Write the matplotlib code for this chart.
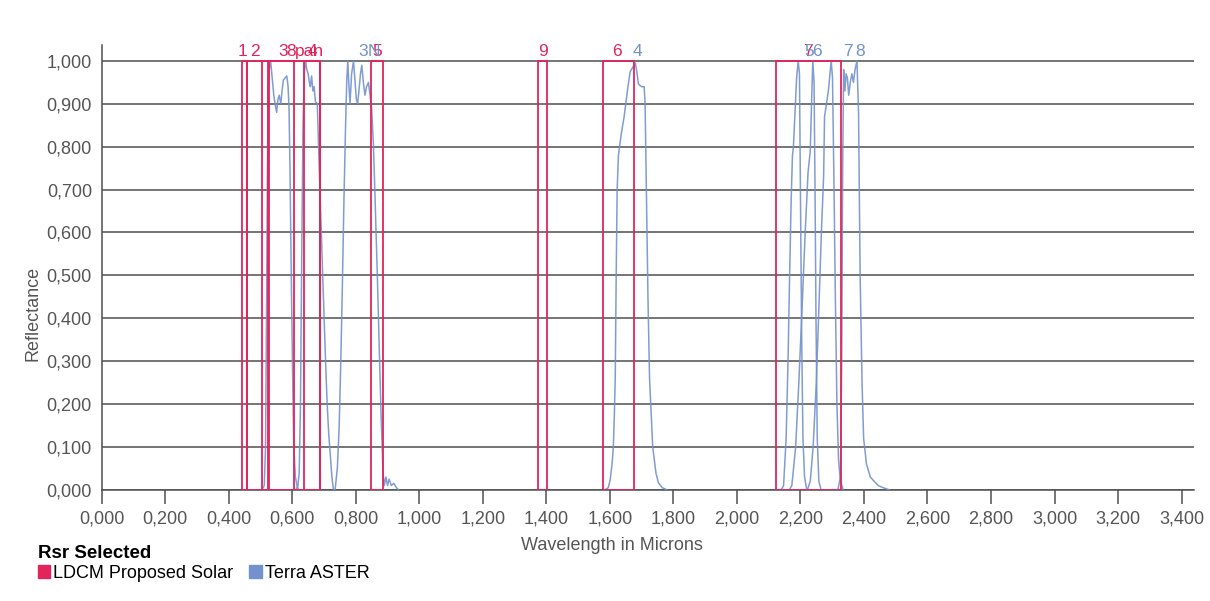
import numpy as np
import matplotlib.pyplot as plt
from matplotlib.ticker import FuncFormatter, MultipleLocator
from matplotlib.patches import Patch

plt.rcParams['font.family'] = ['Liberation Sans', 'DejaVu Sans']

RED = '#e2245c'
BLUE = '#7391cc'

# LDCM Proposed Solar bands: (start, end) in microns, label
ldcm_lo = [0.441, 0.458, 0.526, 0.637, 0.848, 1.579, 2.123, 0.506, 1.374]
ldcm_hi = [0.459, 0.523, 0.607, 0.688, 0.887, 1.677, 2.328, 0.688, 1.402]
ldcm_lab = ['1', '2', '3', '4', '5', '6', '7', '8', '9']
ldcm_lab_x = [0.443, 0.483, 0.571, 0.665, 0.867, 1.623, 2.225, 0.597, 1.388]
pan_text_x = 0.609

# Terra ASTER relative spectral response curves
a1_wl = [0.505, 0.512, 0.516, 0.519, 0.522, 0.525, 0.529, 0.532, 0.537, 0.542, 0.546, 0.551,
         0.555, 0.559, 0.564, 0.568, 0.572, 0.577, 0.583, 0.587, 0.590, 0.593, 0.597,
         0.601, 0.605, 0.610, 0.615, 0.620]
a1_r = [0.0, 0.01, 0.1, 0.4, 0.75, 0.95, 0.99, 1.0, 0.96, 0.92, 0.90, 0.88,
        0.91, 0.92, 0.90, 0.93, 0.955, 0.96, 0.965, 0.94, 0.89, 0.75, 0.5,
        0.28, 0.1, 0.03, 0.01, 0.0]

a2_wl = [0.612, 0.618, 0.622, 0.626, 0.630, 0.634, 0.638, 0.642, 0.646, 0.650, 0.654, 0.657,
         0.661, 0.665, 0.669, 0.673, 0.679, 0.685, 0.690, 0.695, 0.700, 0.705, 0.710,
         0.715, 0.720, 0.725, 0.730]
a2_r = [0.0, 0.01, 0.04, 0.2, 0.55, 0.85, 0.97, 1.0, 0.98, 0.97, 0.95, 0.94,
        0.965, 0.93, 0.94, 0.905, 0.90, 0.75, 0.64, 0.52, 0.41, 0.30, 0.20,
        0.13, 0.08, 0.03, 0.0]

a3_wl = [0.735, 0.742, 0.748, 0.753, 0.758, 0.763, 0.768, 0.772, 0.775, 0.778, 0.782, 0.787,
         0.793, 0.798, 0.802, 0.806, 0.810, 0.815, 0.819, 0.824, 0.829, 0.834, 0.840,
         0.845, 0.850, 0.856, 0.862, 0.868, 0.874, 0.880, 0.886, 0.890, 0.895, 0.900,
         0.905, 0.912, 0.920, 0.928, 0.935]
a3_r = [0.0, 0.05, 0.15, 0.3, 0.48, 0.68, 0.85, 0.96, 1.0, 0.95, 0.90, 0.97,
        1.0, 0.95, 0.91, 0.90, 0.93, 0.97, 0.99, 0.95, 0.92, 0.94, 0.95,
        0.92, 0.89, 0.80, 0.65, 0.50, 0.33, 0.17, 0.04, 0.01, 0.03, 0.01,
        0.025, 0.01, 0.015, 0.005, 0.0]

a4_wl = [1.585, 1.595, 1.601, 1.607, 1.611, 1.614, 1.617, 1.620, 1.623, 1.627, 1.636, 1.645,
         1.651, 1.657, 1.664, 1.672, 1.680, 1.685, 1.690, 1.700, 1.708, 1.711, 1.714,
         1.717, 1.720, 1.725, 1.735, 1.745, 1.753, 1.765, 1.780]
a4_r = [0.0, 0.005, 0.023, 0.06, 0.1, 0.17, 0.26, 0.5, 0.7, 0.78, 0.83, 0.87,
        0.905, 0.94, 0.975, 0.985, 0.995, 0.975, 0.946, 0.94, 0.94, 0.90, 0.75,
        0.60, 0.45, 0.26, 0.10, 0.04, 0.016, 0.005, 0.0]

a5_wl = [2.140, 2.147, 2.155, 2.161, 2.166, 2.171, 2.175, 2.178, 2.183, 2.188, 2.193, 2.197,
         2.200, 2.204, 2.208, 2.213, 2.220]
a5_r = [0.0, 0.01, 0.12, 0.3, 0.5, 0.68, 0.78, 0.80, 0.88, 0.96, 1.0, 0.97,
        0.7, 0.35, 0.12, 0.03, 0.0]

a6_wl = [2.165, 2.173, 2.185, 2.195, 2.205, 2.215, 2.224, 2.231, 2.235, 2.239, 2.243, 2.246,
         2.249, 2.253, 2.258, 2.265]
a6_r = [0.0, 0.01, 0.1, 0.25, 0.42, 0.6, 0.74, 0.79, 0.9, 1.0, 0.95, 0.7,
        0.4, 0.12, 0.02, 0.0]

a7_wl = [2.222, 2.231, 2.240, 2.250, 2.258, 2.266, 2.273, 2.276, 2.282, 2.288, 2.293, 2.297,
         2.301, 2.305, 2.310, 2.315, 2.320, 2.326, 2.335]
a7_r = [0.0, 0.02, 0.1, 0.25, 0.42, 0.6, 0.73, 0.87, 0.90, 0.93, 0.97, 1.0,
        0.96, 0.75, 0.45, 0.2, 0.07, 0.02, 0.0]

a8_wl = [2.318, 2.326, 2.330, 2.333, 2.336, 2.340, 2.344, 2.348, 2.352, 2.357, 2.362, 2.367,
         2.372, 2.378, 2.383, 2.388, 2.394, 2.399, 2.408, 2.420, 2.432, 2.445, 2.460, 2.480]
a8_r = [0.0, 0.03, 0.3, 0.75, 0.98, 0.93, 0.97, 0.96, 0.92, 0.95, 0.97, 0.95,
        0.98, 1.0, 0.88, 0.5, 0.25, 0.12, 0.06, 0.03, 0.02, 0.01, 0.005, 0.0]

aster_wl = [a1_wl, a2_wl, a3_wl, a4_wl, a5_wl, a6_wl, a7_wl, a8_wl]
aster_r = [a1_r, a2_r, a3_r, a4_r, a5_r, a6_r, a7_r, a8_r]
aster_lab = ['3', 'N', '4', '5', '6', '7', '8']
aster_lab_x = [0.822, 0.858, 1.686, 2.228, 2.253, 2.349, 2.388]

fig = plt.figure(figsize=(12.1, 6.01), dpi=100)
ax = fig.add_axes([0.084, 0.185, 0.903, 0.740])

for wl, r in zip(aster_wl, aster_r):
    ax.plot(wl, r, color=BLUE, lw=1.1, alpha=0.9, zorder=3)

ax.bar(ldcm_lo, [1.0] * len(ldcm_lo), width=np.array(ldcm_hi) - np.array(ldcm_lo),
       align='edge', fill=False, edgecolor=RED, linewidth=1.3, zorder=4)

for lab, x in zip(ldcm_lab, ldcm_lab_x):
    ax.text(x, 1.012, lab, color=RED, fontsize=12.5, ha='center', va='baseline', zorder=5)
ax.text(pan_text_x, 1.012, 'pan', color=RED, fontsize=12.5, ha='left', va='baseline', zorder=5)
for lab, x in zip(aster_lab, aster_lab_x):
    ax.text(x, 1.012, lab, color=BLUE, fontsize=12.5, ha='center', va='baseline', zorder=5)

ax.set_xlim(0, 3.44)
ax.set_ylim(0, 1.037)
ax.xaxis.set_major_locator(MultipleLocator(0.2))
ax.yaxis.set_major_locator(MultipleLocator(0.1))
fmt = FuncFormatter(lambda v, p: f"{v:.3f}".replace('.', ','))
ax.xaxis.set_major_formatter(fmt)
ax.yaxis.set_major_formatter(fmt)
ax.grid(axis='y', color='#505050', lw=1.1, zorder=0)
ax.set_axisbelow(True)
for s in ['top', 'right']:
    ax.spines[s].set_visible(False)
for s in ['left', 'bottom']:
    ax.spines[s].set_color('#505050')
    ax.spines[s].set_linewidth(1.1)
ax.tick_params(axis='y', length=0, pad=7, labelsize=13, labelcolor='#555555')
ax.tick_params(axis='x', length=10, width=1.1, color='#505050', pad=5, labelsize=13,
               labelcolor='#555555')

fig.text(612 / 1210, 1 - 545 / 601, 'Wavelength in Microns', fontsize=13, color='#555555',
         ha='center', va='center')
fig.text(33 / 1210, 1 - 313 / 601, 'Reflectance', fontsize=13, color='#555555',
         ha='center', va='center', rotation=90)

handles = [Patch(color=RED, label='LDCM Proposed Solar'), Patch(color=BLUE, label='Terra ASTER')]
leg = ax.legend(handles=handles, title='Rsr Selected', ncol=2, loc='upper left',
                bbox_to_anchor=(0.031, 0.094), bbox_transform=fig.transFigure, frameon=False,
                fontsize=13, handlelength=0.7, handleheight=0.7, handletextpad=0.15,
                columnspacing=0.9, borderpad=0, borderaxespad=0, labelspacing=0.2,
                alignment='left', title_fontproperties={'weight': 'bold', 'size': 13.5})

fig.savefig('out.png', dpi=100, facecolor='white')
